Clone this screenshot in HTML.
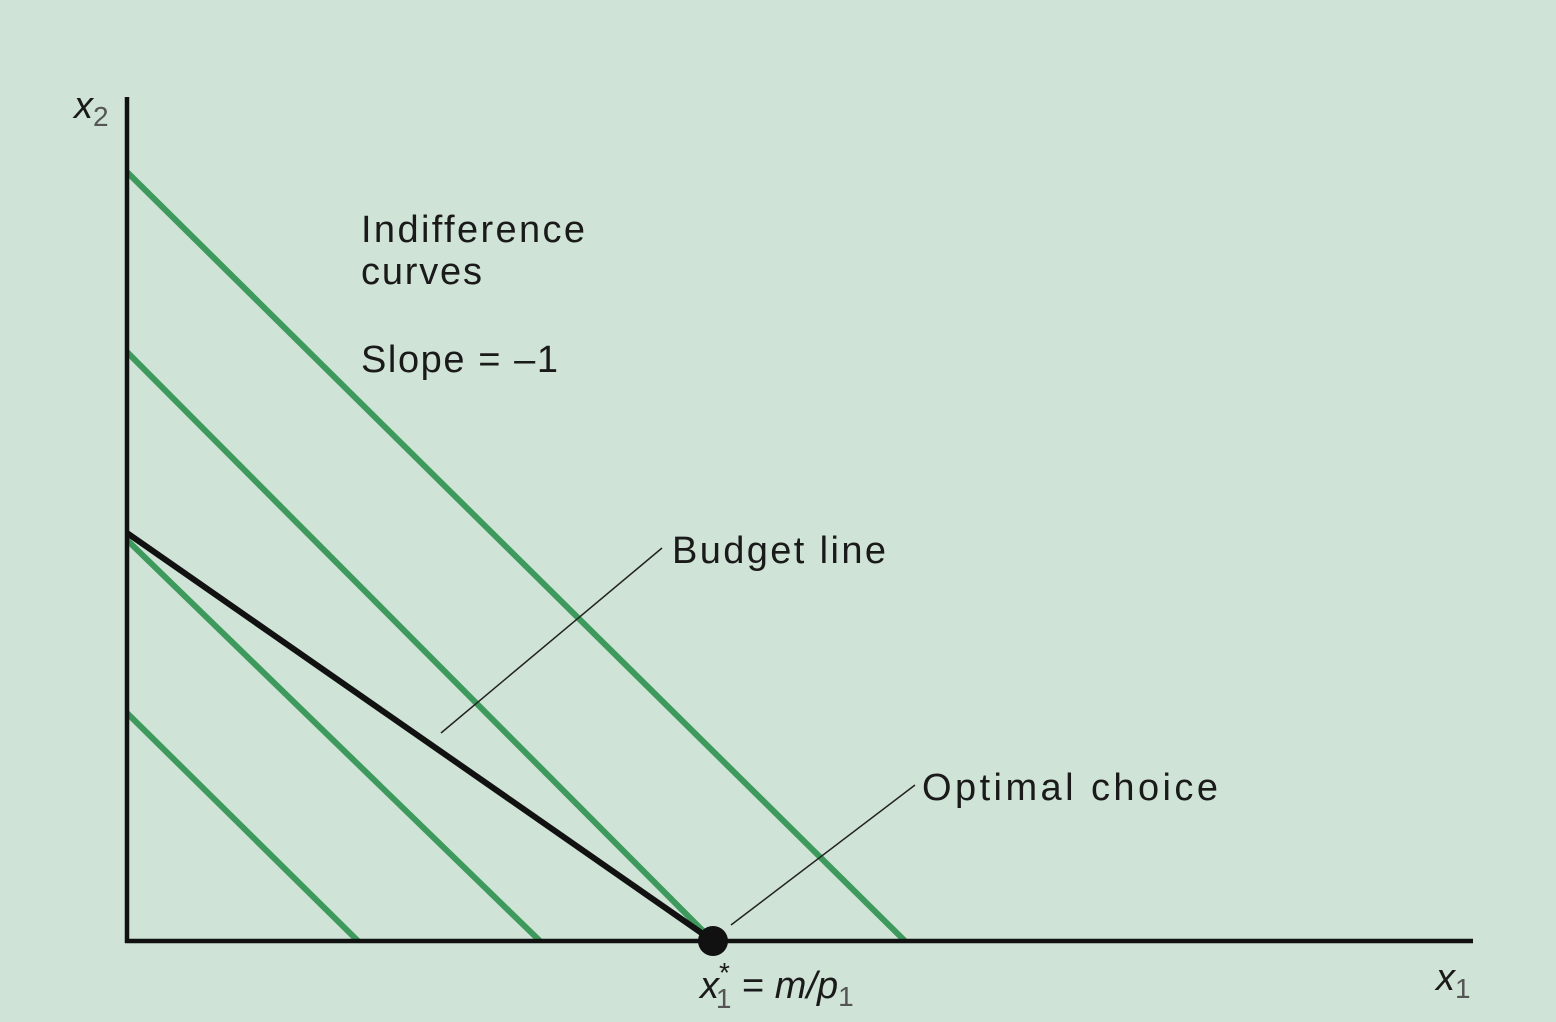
<!DOCTYPE html>
<html><head><meta charset="utf-8"><style>
body{margin:0;background:#cfe3d6;}
svg{display:block}
text{font-family:"Liberation Sans",sans-serif;fill:#1a1a1a}
</style></head><body>
<svg id="chart" width="1556" height="1022" viewBox="0 0 1556 1022">
<rect width="1556" height="1022" fill="#cfe3d6"/>
<g id="marks"></g>
<line x1="127" y1="97" x2="127" y2="943" stroke="#111" stroke-width="4.5"/>
<line x1="125" y1="941" x2="1473" y2="941" stroke="#111" stroke-width="4.5"/>
<text x="74" y="118" font-size="38" font-style="italic">x<tspan font-size="28" dy="8" font-style="normal" fill="#555">2</tspan></text>
<text x="1436" y="990" font-size="38" font-style="italic">x<tspan font-size="28" dy="8" font-style="normal" fill="#555">1</tspan></text>
<text x="700" y="998" font-size="38" font-style="italic">x<tspan font-size="28" dy="-16" font-style="normal">*</tspan><tspan font-size="28" dx="-14" dy="26" font-style="normal" fill="#555">1</tspan><tspan dy="-10" font-style="normal"> = </tspan>m/p<tspan font-size="28" dy="8" font-style="normal" fill="#555">1</tspan></text>
<text x="361" y="242" font-size="38" textLength="224">Indifference</text>
<text x="361" y="284" font-size="38" textLength="121">curves</text>
<text x="361" y="372" font-size="38" textLength="197">Slope = –1</text>
<text x="672" y="563" font-size="38" textLength="214">Budget line</text>
<text x="922" y="800" font-size="38" textLength="296">Optimal choice</text>
<line x1="441" y1="733" x2="662" y2="548" stroke="#222" stroke-width="1.5"/>
<line x1="731" y1="925" x2="915" y2="785" stroke="#222" stroke-width="1.5"/>
</svg>
<script>
const icXIntercepts=[2.31,4.13,5.86,7.78];
const icYIntercepts=[2.28,4.01,5.89,7.69];
const budgetX=[0,5.86];
const budgetY=[4.08,0];
const optimalPoint=[5.86,0];
const ox=127,oy=941,unit=100;
function sx(v){return ox+v*unit;}
function sy(v){return oy-v*unit;}
const g=document.getElementById('marks');
const NS='http://www.w3.org/2000/svg';
icXIntercepts.forEach((xi,i)=>{
 const l=document.createElementNS(NS,'line');
 l.setAttribute('x1',sx(0));l.setAttribute('y1',sy(icYIntercepts[i]));
 l.setAttribute('x2',sx(xi));l.setAttribute('y2',sy(0));
 l.setAttribute('stroke','#3d9a5c');l.setAttribute('stroke-width','6');
 
 
 g.appendChild(l);
});
const b=document.createElementNS(NS,'line');
b.setAttribute('x1',sx(budgetX[0]));b.setAttribute('y1',sy(budgetY[0]));
b.setAttribute('x2',sx(budgetX[1]));b.setAttribute('y2',sy(budgetY[1]));
b.setAttribute('stroke','#111');b.setAttribute('stroke-width','6');


g.appendChild(b);
const c=document.createElementNS(NS,'circle');
c.setAttribute('cx',sx(optimalPoint[0]));c.setAttribute('cy',sy(optimalPoint[1]));
c.setAttribute('r','15');c.setAttribute('fill','#111');


document.getElementById('chart').appendChild(c);
</script>
</body></html>
